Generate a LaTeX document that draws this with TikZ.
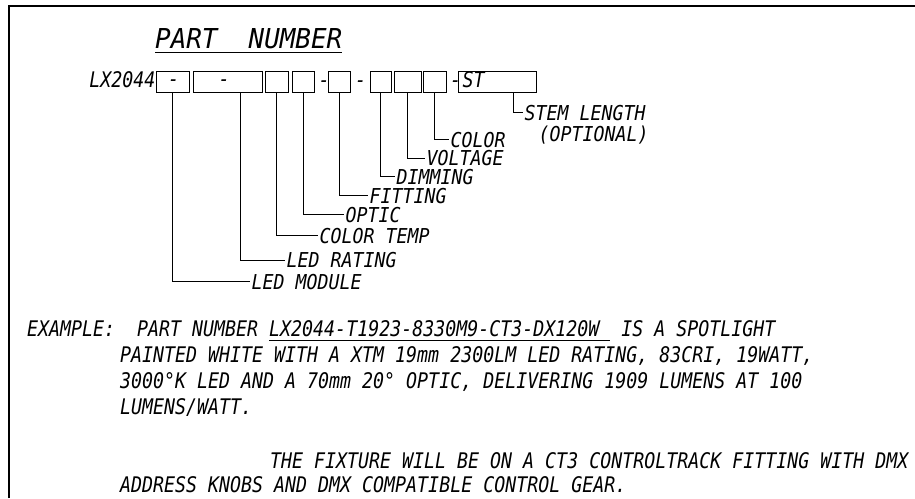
\documentclass[tikz,border=0pt]{standalone}
\usepackage{fontspec}
\newfontfamily\cad[FakeStretch=0.85]{DejaVu Sans Mono Oblique}
\newfontfamily\cadlbl[FakeStretch=0.89]{DejaVu Sans Mono Oblique}
\newcommand\cadul[2]{\vtop{\hbox{#2}\kern#1\hrule height 1pt}}
\begin{document}
\begin{tikzpicture}[x=1pt,y=-1pt,
  txt/.style={font=\cad\fontsize{21.5}{22}\selectfont, inner sep=0pt},
  lbl/.style={font=\cadlbl\fontsize{20.5}{21}\selectfont, anchor=west, inner xsep=1.5pt, inner ysep=0pt, text height=15pt, text depth=0pt},
  body/.style={txt, anchor=base west},
  pbox/.style={draw, line width=1pt, inner sep=0pt, minimum height=21pt},
  leader/.style={line width=1pt},
  frame/.style={line width=1.8pt}]
\useasboundingbox (0,0) rectangle (915,498);
\draw[frame] (9,498) -- (9,6) -- (915,6);
% title
\node[txt, anchor=base west, font=\cad\fontsize{27.4}{28}\selectfont] (title) at (155,48)
  {\resizebox{187pt}{\height}{\cadul{4pt}{PART\ \ NUMBER}}};
% part number boxes
\node[txt, anchor=base east] (lx) at (155.5,87) {LX2044};
\node[pbox, minimum width=33.3pt] (b1) at (172.65,81.5) {};
\node[pbox, minimum width=69pt]   (b2) at (227.8,81.5) {};
\node[pbox, minimum width=23pt]   (b3) at (276.8,81.5) {};
\node[pbox, minimum width=22.4pt] (b4) at (303.5,81.5) {};
\node[pbox, minimum width=22pt]   (b5) at (339.7,81.5) {};
\node[pbox, minimum width=21.7pt] (b6) at (380.85,81.5) {};
\node[pbox, minimum width=27pt]   (b7) at (407.5,81.5) {};
\node[pbox, minimum width=22.7pt] (b8) at (434.65,81.5) {};
\node[pbox, minimum width=78.4pt] (b9) at (497.5,81.5) {};
\node[txt, anchor=base] (t1) at (173.5,86) {-};
\node[txt, anchor=base] (t2) at (224,86) {-};
\node[txt, anchor=base] (d1) at (324,87.5) {-};
\node[txt, anchor=base] (d2) at (360.5,87.5) {-};
\node[txt, anchor=base] (d3) at (455.5,87.5) {-};
\node[txt, anchor=base west] (st) at (462.5,87) {ST};
% labels
\node[lbl] (l1) at (250,281.7) {LED MODULE};
\node[lbl] (l2) at (285,260) {LED RATING};
\node[lbl] (l3) at (318,235.5) {COLOR TEMP};
\node[lbl] (l4) at (344,214.5) {OPTIC};
\node[lbl] (l5) at (368,195.5) {FITTING};
\node[lbl] (l6) at (395,176.5) {DIMMING};
\node[lbl] (l7) at (425,158) {VOLTAGE};
\node[lbl] (l8) at (449,139.5) {COLOR};
\node[lbl] (l9) at (523,112.5) {STEM LENGTH};
\node[lbl] (l9b) at (537,133.5) {(OPTIONAL)};
\draw[leader] (b1.south) |- (l1.west);
\draw[leader] ([xshift=12.9pt]b2.south) |- (l2.west);
\draw[leader] (b3.south) |- (l3.west);
\draw[leader] (b4.south) |- (l4.west);
\draw[leader] (b5.south) |- (l5.west);
\draw[leader] (b6.south) |- (l6.west);
\draw[leader] (b7.south) |- (l7.west);
\draw[leader] (b8.south) |- (l8.west);
\draw[leader] ([xshift=15.8pt]b9.south) |- (l9.west);
% example text
\node[body] (e1) at (27,336) {EXAMPLE:\ \ PART NUMBER \cadul{3.5pt}{LX2044-T1923-8330M9-CT3-DX120W\ }\ IS A SPOTLIGHT};
\node[body] (e2) at (120,362) {PAINTED WHITE WITH A XTM 19mm 2300LM LED RATING, 83CRI, 19WATT,};
\node[body] (e3) at (120,388) {3000°K LED AND A 70mm 20° OPTIC, DELIVERING 1909 LUMENS AT 100};
\node[body] (e4) at (120,414) {LUMENS/WATT.};
\node[body] (e5) at (270,468) {THE FIXTURE WILL BE ON A CT3 CONTROLTRACK FITTING WITH DMX};
\node[body] (e6) at (120,492.5) {ADDRESS KNOBS AND DMX COMPATIBLE CONTROL GEAR.};
\end{tikzpicture}
\end{document}
